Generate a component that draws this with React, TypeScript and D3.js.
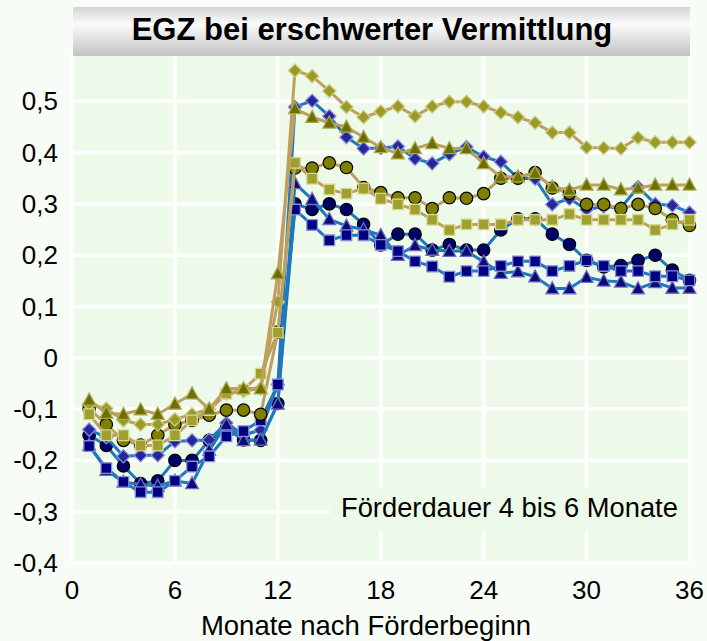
import React from "react";
import * as d3 from "d3";

const months = [1,2,3,4,5,6,7,8,9,10,11,12,13,14,15,16,17,18,19,20,21,22,23,24,25,26,27,28,29,30,31,32,33,34,35,36];
const xTicks = [0, 6, 12, 18, 24, 30, 36];
const yTicks = [-0.4, -0.3, -0.2, -0.1, 0, 0.1, 0.2, 0.3, 0.4, 0.5];
const yGrid = [-0.4, -0.3, -0.2, -0.1, 0, 0.1, 0.2, 0.3, 0.4, 0.5, 0.6];

const blueCircle = [-0.151,-0.171,-0.211,-0.245,-0.240,-0.200,-0.200,-0.161,-0.138,-0.160,-0.161,-0.089,
  0.300,0.289,0.300,0.289,0.260,0.220,0.241,0.241,0.210,0.221,0.210,0.210,
  0.249,0.271,0.271,0.241,0.221,0.190,0.177,0.180,0.190,0.200,0.171,0.151];
const blueDiamond = [-0.140,-0.155,-0.192,-0.190,-0.190,-0.163,-0.161,-0.160,-0.127,-0.150,-0.141,-0.052,
  0.489,0.501,0.471,0.430,0.408,0.409,0.412,0.388,0.379,0.397,0.411,0.392,
  0.382,0.350,0.349,0.299,0.310,0.289,0.295,0.292,0.333,0.300,0.297,0.283];
const blueTriangle = [-0.170,-0.219,-0.242,-0.247,-0.250,-0.240,-0.245,-0.180,-0.130,-0.161,-0.160,-0.090,
  0.340,0.309,0.270,0.257,0.250,0.239,0.200,0.219,0.210,0.208,0.208,0.187,
  0.165,0.168,0.158,0.135,0.135,0.157,0.150,0.148,0.135,0.147,0.136,0.136];
const blueSquare = [-0.172,-0.215,-0.242,-0.262,-0.262,-0.240,-0.212,-0.192,-0.153,-0.143,-0.122,-0.052,
  0.289,0.259,0.229,0.239,0.239,0.220,0.208,0.188,0.178,0.158,0.169,0.169,
  0.179,0.188,0.188,0.169,0.179,0.190,0.179,0.169,0.169,0.159,0.159,0.151];
const oliveCircle = [-0.099,-0.130,-0.161,-0.170,-0.151,-0.130,-0.122,-0.112,-0.102,-0.102,-0.110,0.050,
  0.370,0.370,0.380,0.371,0.332,0.322,0.312,0.312,0.291,0.312,0.311,0.320,
  0.350,0.350,0.361,0.331,0.321,0.299,0.299,0.291,0.299,0.291,0.269,0.258];
const oliveDiamond = [-0.090,-0.099,-0.122,-0.130,-0.130,-0.120,-0.110,-0.100,-0.070,-0.065,-0.060,0.109,
  0.560,0.549,0.520,0.489,0.469,0.480,0.490,0.471,0.490,0.499,0.499,0.490,
  0.478,0.469,0.458,0.439,0.439,0.410,0.409,0.408,0.429,0.420,0.420,0.420];
const oliveSquare = [-0.110,-0.151,-0.151,-0.171,-0.171,-0.151,-0.122,-0.102,-0.070,-0.062,-0.031,0.049,
  0.380,0.349,0.328,0.320,0.330,0.310,0.299,0.289,0.269,0.249,0.260,0.260,
  0.260,0.269,0.269,0.269,0.280,0.269,0.269,0.269,0.269,0.249,0.260,0.269];
const oliveTriangle = [-0.082,-0.108,-0.110,-0.101,-0.110,-0.090,-0.070,-0.100,-0.060,-0.060,-0.060,0.164,
  0.486,0.469,0.458,0.450,0.430,0.410,0.398,0.408,0.418,0.408,0.408,0.379,
  0.353,0.353,0.360,0.333,0.327,0.337,0.337,0.328,0.331,0.337,0.337,0.337];

const BLUE_LINE = "#1d78bd";
const TAN_LINE = "#bf9f5f";

type Shape = "circle" | "square" | "diamond" | "triangle";
interface Series { values: number[]; shape: Shape; fill: string; stroke: string; line: string; }

const series: Series[] = [
  { values: blueCircle, shape: "circle", fill: "#000068", stroke: "#000000", line: BLUE_LINE },
  { values: blueDiamond, shape: "diamond", fill: "#26269a", stroke: "#8c8ce0", line: BLUE_LINE },
  { values: blueTriangle, shape: "triangle", fill: "#0c0c78", stroke: "#6c6cc4", line: BLUE_LINE },
  { values: blueSquare, shape: "square", fill: "#000080", stroke: "#8a8ad8", line: BLUE_LINE },
  { values: oliveCircle, shape: "circle", fill: "#808000", stroke: "#000000", line: TAN_LINE },
  { values: oliveDiamond, shape: "diamond", fill: "#9a9a26", stroke: "#cccc84", line: TAN_LINE },
  { values: oliveSquare, shape: "square", fill: "#a0a030", stroke: "#d8d890", line: TAN_LINE },
  { values: oliveTriangle, shape: "triangle", fill: "#6e6e00", stroke: "#a8a850", line: TAN_LINE },
];

function markerPath(shape: Shape): string {
  switch (shape) {
    case "square": return "M-5.3,-5.3H5.3V5.3H-5.3Z";
    case "diamond": return "M0,-6.6L6.6,0L0,6.6L-6.6,0Z";
    case "triangle": return "M0,-6.8L6.4,5.2H-6.4Z";
    default: return "";
  }
}

export default function App() {
  const W = 707, H = 641;
  const x = d3.scaleLinear().domain([0, 36]).range([72, 689.5]);
  const y = d3.scaleLinear().domain([-0.4, 0.6]).range([563, 50]);
  const line = d3.line<number>().x((_, i) => x(months[i])).y((v) => y(v));
  const fmt = (v: number) => (Math.abs(v) < 1e-9 ? "0" : d3.format(".1f")(v).replace(".", ",").replace("−", "-"));
  const font = "'Liberation Sans', Arial, sans-serif";

  return (
    <svg width={W} height={H} style={{ position: "absolute", left: 0, top: 0, display: "block" }}>
      <defs>
        <linearGradient id="titleGrad" x1="0" y1="0" x2="0" y2="1">
          <stop offset="0" stopColor="#d4d4d4" />
          <stop offset="0.35" stopColor="#fbfbfb" />
          <stop offset="1" stopColor="#c2c2c2" />
        </linearGradient>
        <clipPath id="plotClip">
          <rect x={x(0)} y={y(0.6)} width={x(36) - x(0) + 8} height={y(-0.4) - y(0.6)} />
        </clipPath>
      </defs>
      <rect x={0} y={0} width={W} height={H} fill="#f7fdf6" />
      <rect x={x(0)} y={y(0.6)} width={x(36) - x(0)} height={y(-0.4) - y(0.6)} fill="#edfaea" />
      <g stroke="#ffffff" strokeWidth={3.5}>
        {yGrid.map((v) => (
          <line key={"gy" + v} x1={x(0)} x2={x(36)} y1={y(v)} y2={y(v)} />
        ))}
        {xTicks.map((v) => (
          <line key={"gx" + v} x1={x(v)} x2={x(v)} y1={y(0.6)} y2={y(-0.4)} />
        ))}
      </g>
      <rect x={330} y={489} width={358} height={42} fill="#edfaea" />
      <text x={341} y={517} fontFamily={font} fontSize={27.3} fill="#000">Förderdauer 4 bis 6 Monate</text>
      <g clipPath="url(#plotClip)">
        {series.map((s, si) => (
          <g key={"s" + si}>
            <path d={line(s.values) || ""} fill="none" stroke={s.line} strokeWidth={3} strokeLinejoin="round" />
            {s.values.map((v, i) =>
              s.shape === "circle" ? (
                <circle key={i} cx={x(months[i])} cy={y(v)} r={6.2} fill={s.fill} stroke={s.stroke} strokeWidth={1.2} />
              ) : (
                <path key={i} transform={`translate(${x(months[i])},${y(v)})`} d={markerPath(s.shape)} fill={s.fill} stroke={s.stroke} strokeWidth={1.3} />
              )
            )}
          </g>
        ))}
      </g>
      <rect x={73} y={7} width={617} height={49} fill="url(#titleGrad)" />
      <text x={372} y={40} textAnchor="middle" fontFamily={font} fontSize={31} fontWeight="bold" fill="#000">EGZ bei erschwerter Vermittlung</text>
      <g fontFamily={font} fontSize={26} fill="#000">
        {yTicks.map((v) => (
          <text key={"yl" + v} x={58} y={y(v) + 9} textAnchor="end">{fmt(v)}</text>
        ))}
        {xTicks.map((v) => (
          <text key={"xl" + v} x={x(v)} y={599} textAnchor="middle">{String(v)}</text>
        ))}
      </g>
      <text x={366} y={635} textAnchor="middle" fontFamily={font} fontSize={27.5} fill="#000">Monate nach Förderbeginn</text>
    </svg>
  );
}
